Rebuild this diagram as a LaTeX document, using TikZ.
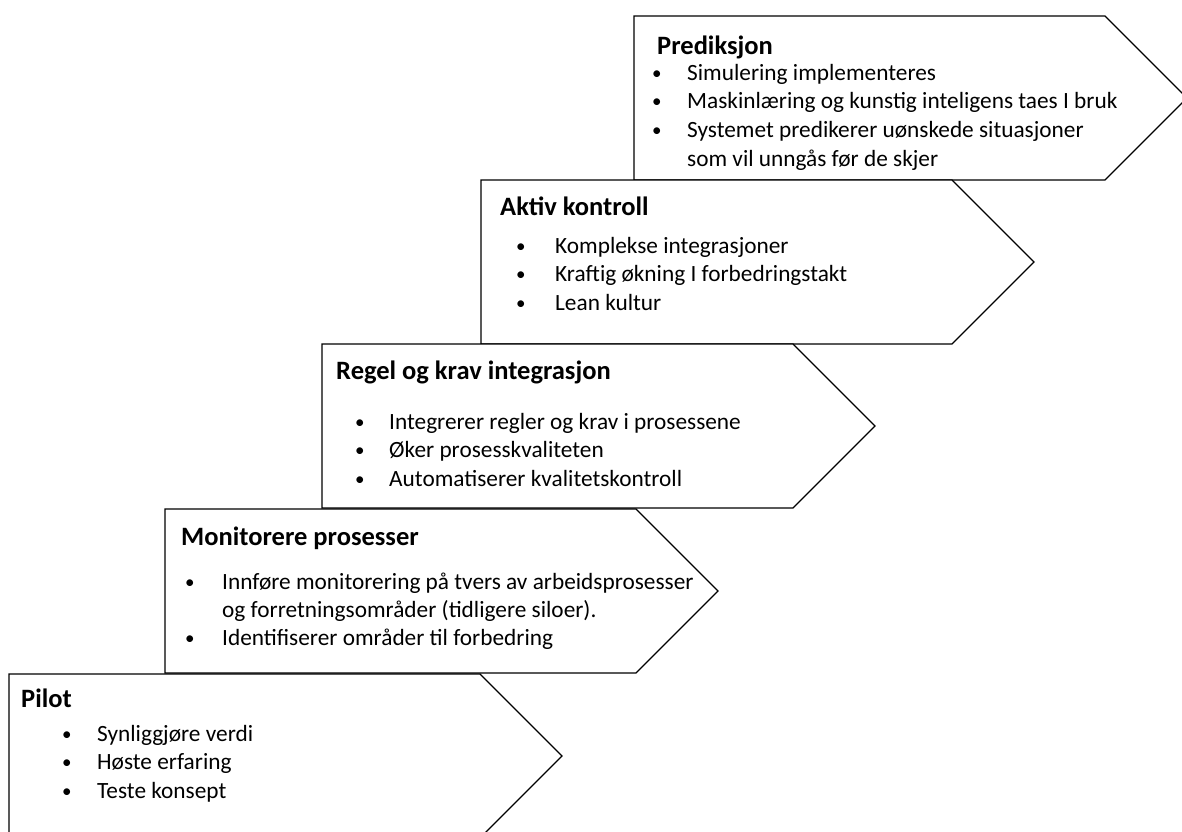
\documentclass[tikz,border=0pt]{standalone}
\usepackage{fontspec}
\setmainfont{Carlito}
\begin{document}
\begin{tikzpicture}[x=1pt,y=-1pt,
  stagebox/.style={draw=black,line width=1.3pt,fill=white,line join=miter},
  stagetitle/.style={anchor=base west,inner sep=0pt,font=\fontsize{26.5}{30}\selectfont\bfseries},
  itemtext/.style={anchor=base west,inner sep=0pt,font=\fontsize{23.3}{27}\selectfont},
  itemdot/.style={anchor=base west,inner sep=0pt,font=\fontsize{19}{23}\selectfont},
]
\useasboundingbox (0,0) rectangle (1182,831);
\clip (0,0) rectangle (1182,831);
% chevron: left x, top y; body 471 wide, 164 high, point 82 deep
\newcommand\chevronshape[2]{\draw[stagebox] (#1,#2) -- ++(471,0) -- ++(82,82) -- ++(-82,82) -- ++(-471,0) -- cycle;}

% ---- Prediksjon
\chevronshape{634}{16}
\node[stagetitle] (t5) at (657,54) {Prediksjon};
\node[itemdot] (d51) at (652,79) {•};
\node[itemtext] (i51) at (687,80) {Simulering implementeres};
\node[itemdot] (d52) at (652,107) {•};
\node[itemtext] (i52) at (687,108) {Maskinlæring og kunstig inteligens taes I bruk};
\node[itemdot] (d53) at (652,136) {•};
\node[itemtext] (i53) at (687,137) {Systemet predikerer uønskede situasjoner};
\node[itemtext] (i54) at (687,166) {som vil unngås før de skjer};

% ---- Aktiv kontroll
\chevronshape{481}{180}
\node[stagetitle] (t4) at (500,215) {Aktiv kontroll};
\node[itemdot] (d41) at (516,252) {•};
\node[itemtext] (i41) at (555,253) {Komplekse integrasjoner};
\node[itemdot] (d42) at (516,280) {•};
\node[itemtext] (i42) at (555,281) {Kraftig økning I forbedringstakt};
\node[itemdot] (d43) at (516,309) {•};
\node[itemtext] (i43) at (555,310) {Lean kultur};

% ---- Regel og krav integrasjon
\chevronshape{322}{344}
\node[stagetitle] (t3) at (336,379) {Regel og krav integrasjon};
\node[itemdot] (d31) at (355,428) {•};
\node[itemtext] (i31) at (389,429) {Integrerer regler og krav i prosessene};
\node[itemdot] (d32) at (355,456) {•};
\node[itemtext] (i32) at (389,457) {Øker prosesskvaliteten};
\node[itemdot] (d33) at (355,485) {•};
\node[itemtext] (i33) at (389,486) {Automatiserer kvalitetskontroll};

% ---- Monitorere prosesser
\chevronshape{165}{509}
\node[stagetitle] (t2) at (181,545) {Monitorere prosesser};
\node[itemdot] (d21) at (185,588) {•};
\node[itemtext] (i21) at (222,589) {Innføre monitorering på tvers av arbeidsprosesser};
\node[itemtext] (i22) at (222,617) {og forretningsområder (tidligere siloer).};
\node[itemdot] (d22) at (185,644) {•};
\node[itemtext] (i23) at (222,645) {Identifiserer områder til forbedring};

% ---- Pilot
\chevronshape{9}{674}
\node[stagetitle] (t1) at (21,707) {Pilot};
\node[itemdot] (d11) at (62,740) {•};
\node[itemtext] (i11) at (97,741) {Synliggjøre verdi};
\node[itemdot] (d12) at (62,768) {•};
\node[itemtext] (i12) at (97,769) {Høste erfaring};
\node[itemdot] (d13) at (62,797) {•};
\node[itemtext] (i13) at (97,798) {Teste konsept};
\end{tikzpicture}
\end{document}
